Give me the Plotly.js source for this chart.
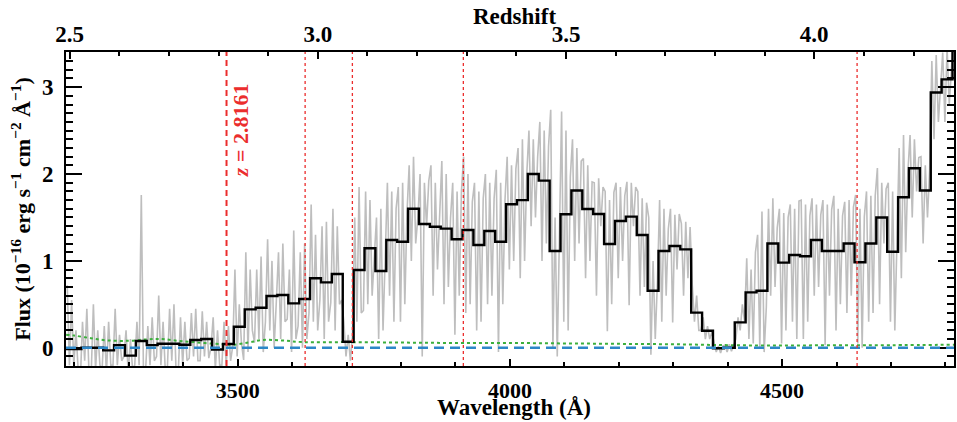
<!DOCTYPE html>
<html>
<head>
<meta charset="utf-8">
<script src="https://cdn.plot.ly/plotly-3.0.1.min.js"></script>
<style>html,body{margin:0;padding:0;background:#fff;}#chart{width:957px;height:422px;}</style>
</head>
<body>
<div id="chart"></div>
<script>
// ---------------- DATA ----------------
// Lyman-limit wavelength used for the redshift (top) axis
const lymanLimit = 911.8;
// redshift of the marked absorber
const zAbsorber = 2.8161;
// wavelengths of the dotted red markers (Å)
const markerWaves = [3623.9, 3710.7, 3914.5, 4637.7];

// binned spectrum (20 Å bins): bin centres (Å) and flux
const binCenters = [3183,3203,3223,3243,3263,3283,3303,3323,3343,3363,3383,3403,3423,3443,3463,3483,
  3503,3523,3543,3563,3583,3603,3623,3643,3663,3683,3703,3723,3743,3763,3783,3803,3823,3843,3863,3883,
  3903,3923,3943,3963,3983,4003,4023,4043,4063,4083,4103,4123,4143,4163,4183,4203,4223,4243,4263,4283,
  4303,4323,4343,4363,4383,4403,4423,4443,4463,4483,4503,4523,4543,4563,4583,4603,4623,4643,4663,4683,
  4703,4723,4743,4763,4783,4803,4823];
const binFlux = [-0.015,-0.015,0.0,0.0,-0.03,0.03,-0.09,0.077,0.03,0.046,0.046,0.035,0.089,0.10,-0.02,0.043,
  0.242,0.442,0.461,0.596,0.607,0.511,0.561,0.80,0.753,0.849,0.069,0.895,1.145,0.884,1.24,1.22,1.60,1.425,1.394,1.371,
  1.25,1.356,1.183,1.344,1.22,1.652,1.70,2.0,1.924,1.114,1.537,1.81,1.598,1.54,1.195,1.46,1.51,1.298,0.657,1.114,
  1.171,1.133,0.404,0.196,-0.005,0.0,0.292,0.638,0.657,1.20,0.98,1.068,1.053,1.24,1.114,1.114,1.20,0.984,1.20,1.50,
  1.106,1.733,2.067,1.81,2.938,3.09,3.6];

// full-resolution spectrum: start wavelength and dispersion (Å/pixel), flux per pixel
const specStart = 3187;
const specDispersion = 4;
const specFlux = [0.72,-0.2,
  0.55,-0.2,0.2,-0.25,-0.38, 0.3,-0.15,0.45,-0.3,-0.3, 0.5,-0.25,0.2,-0.2,-0.25, 0.25,-0.3,0.3,-0.2,-0.2,
  0.45,-0.2,0.15,-0.15,-0.1, 0.2,-0.3,0.1,-0.25,-0.2, 0.3,-0.2,1.76,-0.3,-0.25, 0.25,-0.2,0.35,-0.15,-0.1,
  0.6,-0.2,0.3,-0.25,-0.22, 0.45,-0.15,0.5,-0.3,-0.27, 0.35,-0.2,0.3,-0.15,-0.12, 0.4,-0.1,0.45,-0.15,-0.15,
  0.42,-0.1,0.3,-0.12,0.0, 0.35,-0.25,0.2,-0.2,-0.2, 0.3,-0.2,0.25,-0.15,0.02, 0.9,-0.1,0.5,0.05,-0.14,
  1.1,-0.05,0.9,0.2,0.06, 0.9,0.1,1.05,-0.05,0.3, 1.25,0.2,1.0,0.0,0.53, 1.1,0.1,1.2,0.3,0.33,
  0.9,-0.05,1.35,0.1,0.25, 1.1,0.0,1.2,0.1,0.4, 1.65,0.3,1.3,0.2,0.55, 1.4,0.1,1.45,0.3,0.52,
  1.6,0.2,1.4,0.5,0.55, 0.3,-0.1,0.15,-0.15,0.15, 1.5,0.3,1.85,0.4,0.43, 1.8,0.5,1.7,0.6,1.12,
  1.5,0.1,1.6,0.2,1.02, 1.9,0.6,1.8,0.3,1.6, 1.85,0.3,1.9,0.5,1.55, 2.1,1.0,2.2,1.2,1.5,
  2.0,-0.1,1.9,1.4,1.92, 2.1,0.6,1.9,0.9,1.47, 2.15,0.5,2.0,0.7,1.5, 1.9,0.15,1.8,0.6,1.8,
  2.2,0.4,2.0,0.5,1.68, 1.9,0.2,1.8,0.3,1.72, 2.0,0.5,1.9,0.6,1.72, 2.05,-0.05,1.9,0.5,1.7,
  2.2,0.9,2.1,1.0,2.06, 2.3,0.8,2.4,1.0,2.0, 2.5,1.4,2.4,1.5,2.2, 2.6,1.0,2.5,1.2,2.32,
  2.74,0.0,1.5,-0.1,1.43, 2.72,0.3,2.5,0.2,1.97, 2.4,1.0,2.3,1.2,2.15, 2.18,0.8,2.1,1.0,1.91,
  1.9,0.6,1.95,1.4,1.85, 1.8,0.19,1.7,0.5,1.79, 1.9,0.8,1.85,1.0,1.75, 1.91,0.49,1.9,1.4,1.85,
  1.8,0.6,1.72,0.7,1.67, 1.5,-0.08,1.0,0.1,0.77, 1.7,0.3,1.6,0.6,1.37, 1.6,0.29,1.53,0.9,1.54,
  1.43,0.6,1.45,0.8,1.39, 0.72,0.3,0.6,0.2,0.2, 0.35,0.1,0.25,0.1,0.18, 0.05,-0.05,0.02,-0.06,0.02,
  0.03,-0.05,0.04,-0.04,0.02, 0.1,0.35,0.2,0.5,0.31, 1.03,0.1,0.9,0.05,1.1, 1.3,0.0,1.57,-0.05,0.47,
  1.6,0.6,1.72,0.7,1.38, 1.6,0.05,1.55,0.2,1.5, 1.65,0.3,1.6,0.1,1.69, 1.7,0.1,1.65,0.3,1.52,
  1.72,0.6,1.65,0.7,1.53, 1.7,0.03,1.65,0.6,1.59, 1.75,0.2,1.6,0.5,1.52, 1.68,0.4,1.7,0.6,1.62,
  1.76,0.05,1.6,0.0,1.51, 1.8,0.3,1.75,0.4,1.75, 2.07,0.5,1.9,1.2,1.83, 1.9,0.3,1.8,0.2,1.33,
  2.3,0.8,2.45,1.1,2.02, 2.45,1.5,2.4,1.8,2.19, 2.2,1.2,2.1,1.5,2.05, 3.3,2.4,3.37,2.6,3.0,
  3.4,2.6,3.45,2.8,3.2, 3.6];

// error spectrum (green dotted)
const errWave = [3185,3200,3230,3260,3300,3330,3360,3390,3420,3460,3490,3520,3545,3580,3620,3700,3800,3900,4000,4100,4200,4300,4400,4500,4600,4700,4816];
const errFlux = [0.15,0.14,0.11,0.085,0.08,0.095,0.10,0.08,0.065,0.045,0.035,0.06,0.09,0.085,0.065,0.065,0.06,0.055,0.055,0.05,0.045,0.04,0.03,0.025,0.03,0.03,0.035];

// axis ranges
const waveRange = [3184.7, 4815.7];
const fluxRange = [-0.21, 3.405];

// ---------------- PLOT ----------------
const specWave = specFlux.map((_, i) => specStart + i * specDispersion);
const FONT = 'Liberation Serif, Times New Roman, serif';
const tf = {family: FONT, size: 23, color: 'black', weight: 'bold'};
const bf = {family: FONT, size: 22, color: 'black', weight: 'bold'};

const traces = [
  {x: specWave, y: specFlux, type: 'scatter', mode: 'lines',
   line: {color: 'rgb(190,190,190)', width: 1.6}, hoverinfo: 'skip'},
  {x: errWave, y: errFlux, type: 'scatter', mode: 'lines',
   line: {color: 'rgb(60,175,60)', width: 2, dash: 'dot', shape: 'spline'}, hoverinfo: 'skip'},
  {x: binCenters, y: binFlux, type: 'scatter', mode: 'lines',
   line: {color: 'black', width: 2.4, shape: 'hvh'}, hoverinfo: 'skip'},
  {x: [], y: [], xaxis: 'x2', type: 'scatter', mode: 'lines', hoverinfo: 'skip'}
];

const zLine = lymanLimit * (1 + zAbsorber);
const shapes = [
  {type: 'line', xref: 'paper', yref: 'y', x0: 0, x1: 1, y0: 0, y1: 0,
   line: {color: 'rgb(45,135,200)', width: 2.5, dash: '10px,6px'}},
  {type: 'line', xref: 'x', yref: 'paper', x0: zLine, x1: zLine, y0: 0, y1: 1,
   line: {color: 'rgb(235,45,45)', width: 2, dash: '6px,4px'}}
].concat(markerWaves.map(w => ({type: 'line', xref: 'x', yref: 'paper', x0: w, x1: w, y0: 0, y1: 1,
   line: {color: 'rgb(235,45,45)', width: 1.3, dash: 'dot'}})));

const layout = {
  width: 957, height: 422,
  margin: {l: 66, r: 3, t: 52, b: 56},
  paper_bgcolor: 'white', plot_bgcolor: 'white',
  showlegend: false,
  font: tf,
  xaxis: {
    range: waveRange, tickmode: 'linear', tick0: 0, dtick: 500,
    ticks: 'inside', ticklen: 7, tickwidth: 2, tickcolor: 'black',
    showline: true, linewidth: 2, linecolor: 'black', mirror: true,
    showgrid: false, zeroline: false, tickfont: bf, ticklabelstandoff: 4,
    minor: {tick0: 0, dtick: 100, ticks: 'inside', ticklen: 4, tickwidth: 2, tickcolor: 'black', showgrid: false}
  },
  xaxis2: {
    overlaying: 'x', side: 'top', anchor: 'y',
    range: [waveRange[0] / lymanLimit - 1, waveRange[1] / lymanLimit - 1],
    tickmode: 'linear', tick0: 0, dtick: 0.5, tickformat: '.1f',
    ticks: 'inside', ticklen: 7, tickwidth: 2, tickcolor: 'black',
    showline: false, showgrid: false, zeroline: false, tickfont: tf, ticklabelstandoff: 4,
    minor: {tick0: 0, dtick: 0.1, ticks: 'inside', ticklen: 4, tickwidth: 2, tickcolor: 'black', showgrid: false}
  },
  yaxis: {
    range: fluxRange, tickmode: 'linear', tick0: 0, dtick: 1,
    ticks: 'inside', ticklen: 16, tickwidth: 2, tickcolor: 'black',
    showline: true, linewidth: 2, linecolor: 'black', mirror: 'ticks',
    showgrid: false, zeroline: false, tickfont: tf, ticklabelstandoff: 6,
    minor: {tick0: 0, dtick: 0.1, ticks: 'inside', ticklen: 7, tickwidth: 2, tickcolor: 'black', showgrid: false},
    title: {text: 'Flux (10<sup>−16</sup> erg s<sup>−1</sup> cm<sup>−2</sup> Å<sup>−1</sup>)', font: bf, standoff: 5}
  },
  shapes: shapes,
  annotations: [{
    x: zLine, y: 2.5, xref: 'x', yref: 'y', xshift: 14,
    text: '<i>z</i> = ' + zAbsorber.toFixed(4), showarrow: false, textangle: -90,
    font: {family: FONT, size: 22, color: 'rgb(235,45,45)', weight: 'bold'},
    xanchor: 'center', yanchor: 'middle'
  }, {
    x: 0.5, y: 1, xref: 'paper', yref: 'paper', yshift: 36, xshift: 4,
    text: 'Redshift', showarrow: false, font: tf,
    xanchor: 'center', yanchor: 'middle'
  }, {
    x: 0.5, y: 0, xref: 'paper', yref: 'paper', yshift: -56, xshift: 4,
    text: 'Wavelength (Å)', showarrow: false, font: tf,
    xanchor: 'center', yanchor: 'bottom'
  }]
};

Plotly.newPlot('chart', traces, layout, {displayModeBar: false, staticPlot: true});
</script>
</body>
</html>
